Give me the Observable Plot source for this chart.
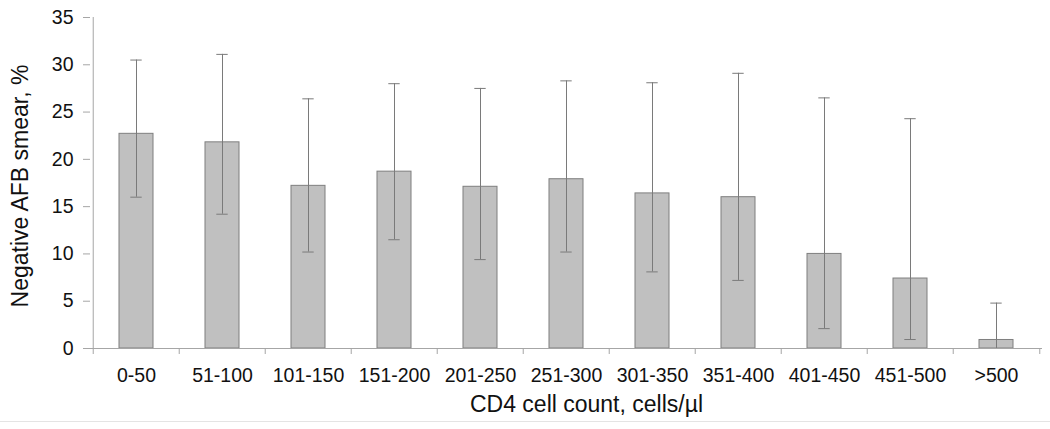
<!DOCTYPE html>
<html>
<head>
<meta charset="utf-8">
<script src="https://cdn.jsdelivr.net/npm/d3@7"></script>
<script src="https://cdn.jsdelivr.net/npm/@observablehq/plot@0.6"></script>
<style>
  html, body { margin: 0; padding: 0; background: #fff; }
  #chart { width: 1050px; }
  #rule { width: 1050px; height: 0; border-top: 1px solid #e4e4e4; }
</style>
</head>
<body>
<div id="chart"></div>
<div id="rule"></div>
<script>
// ---- data ----
const categories = ["0-50", "51-100", "101-150", "151-200", "201-250", "251-300", "301-350", "351-400", "401-450", "451-500", ">500"];
const values     = [22.7, 21.8, 17.2, 18.7, 17.1, 17.9, 16.4, 16.0, 10.0, 7.4, 0.9];
const errLow     = [16.0, 14.2, 10.2, 11.5, 9.4, 10.2, 8.1, 7.2, 2.1, 0.95, 0.0];
const errHigh    = [30.5, 31.1, 26.4, 28.0, 27.5, 28.3, 28.1, 29.1, 26.5, 24.3, 4.8];
const yTicks     = [0, 5, 10, 15, 20, 25, 30, 35];
const yTitle = "Negative AFB smear, %";
const xTitle = "CD4 cell count, cells/µl";

const data = categories.map((c, i) => ({cat: c, value: values[i], lo: errLow[i], hi: errHigh[i]}));

const W = 1050, H = 421;
const mL = 90, mR = 8, mT = 17, mB = 73;
const step = (W - mL - mR) / categories.length;
const capInset = (step * 0.4 - 12) / 2;
const font = "'Liberation Sans', Arial, Helvetica, sans-serif";

const chart = Plot.plot({
  width: W,
  height: H,
  marginLeft: mL,
  marginRight: mR,
  marginTop: mT,
  marginBottom: mB,
  style: {fontFamily: font, fontSize: "19.5px", color: "#111", background: "#fff"},
  x: {domain: categories, paddingInner: 0.6, paddingOuter: 0.3, label: null},
  y: {domain: [0, 35], label: null},
  marks: [
    // bars
    Plot.barY(data, {x: "cat", y: "value", fill: "#c0c0c0", stroke: "#7f7f7f", strokeWidth: 1}),
    // error bars
    Plot.ruleX(data, {x: "cat", y1: "lo", y2: "hi", stroke: "#7a7a7a", strokeWidth: 1}),
    Plot.tickY(data, {x: "cat", y: "hi", stroke: "#7a7a7a", strokeWidth: 1, insetLeft: capInset, insetRight: capInset}),
    Plot.tickY(data, {x: "cat", y: "lo", stroke: "#7a7a7a", strokeWidth: 1, insetLeft: capInset, insetRight: capInset}),
    // axis lines
    Plot.ruleY([0], {stroke: "#a6a6a6", strokeWidth: 1}),
    Plot.ruleX([categories[0]], {x: d => d, dx: -step / 2, y1: 0, y2: 35, stroke: "#a6a6a6", strokeWidth: 1}),
    // y axis
    Plot.axisY({ticks: yTicks, tickSize: 7, tickPadding: 10, stroke: "#a6a6a6", fill: "#111", label: null, fontSize: 19.5}),
    // x axis: labels
    Plot.axisX({tickSize: 0, tickPadding: 20, label: null, fill: "#111", fontSize: 19.5}),
    // x axis: boundary ticks between categories
    Plot.axisX({ticks: categories, tickSize: 6, tickFormat: () => "", dx: -step / 2, stroke: "#a6a6a6", label: null}),
    Plot.axisX({ticks: [categories[categories.length - 1]], tickSize: 6, tickFormat: () => "", dx: step / 2, stroke: "#a6a6a6", label: null}),
    // titles
    Plot.text([yTitle], {frameAnchor: "left", textAnchor: "middle", rotate: -90, dx: -70, dy: 3, fontSize: 23, fill: "#111"}),
    Plot.text([xTitle], {frameAnchor: "bottom", textAnchor: "middle", dx: 20, dy: 63, fontSize: 23, fill: "#111"})
  ]
});
document.getElementById("chart").appendChild(chart);
</script>
</body>
</html>
